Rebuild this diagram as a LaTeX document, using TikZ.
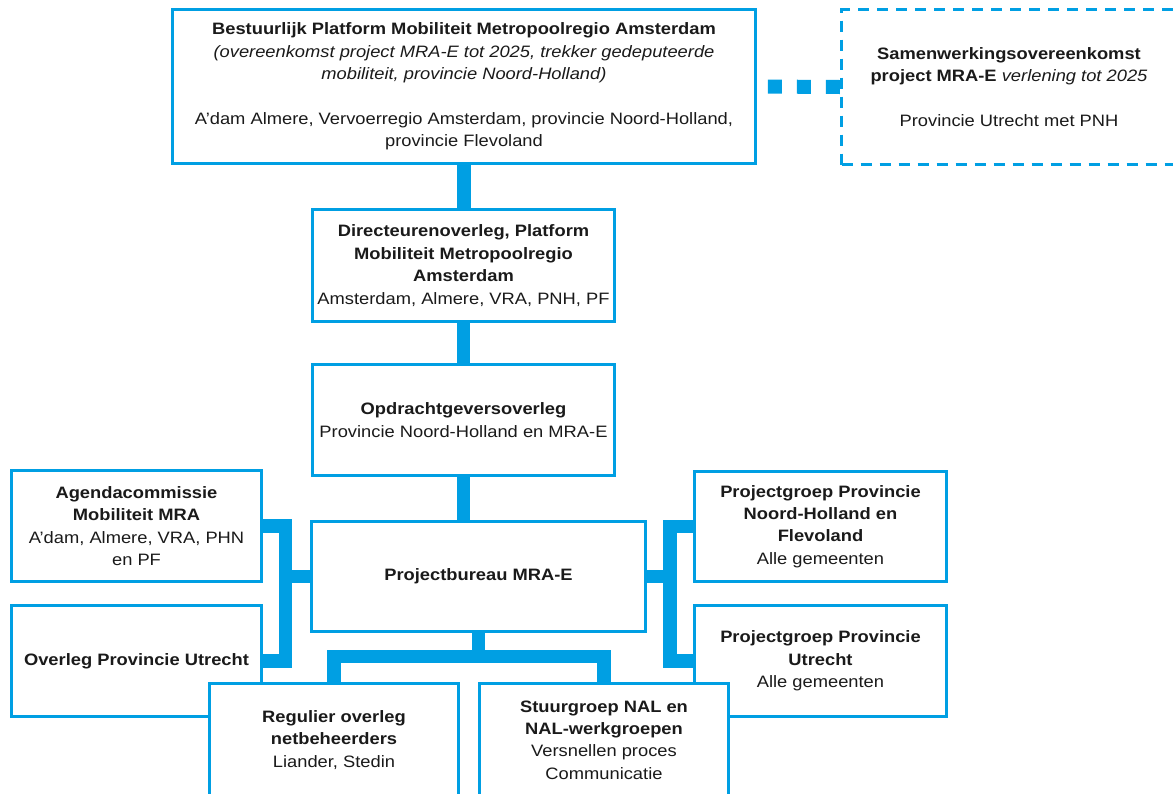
\documentclass[tikz,border=0pt]{standalone}
\usepackage{fontspec}
\setmainfont{Liberation Sans}[FakeStretch=1.11]
\definecolor{mrablue}{HTML}{009FE3}
\definecolor{txt}{HTML}{1A1A1A}
\begin{document}
\begin{tikzpicture}[x=1pt,y=-1pt,
  box/.style={draw=mrablue, line width=3.2pt, fill=white, rectangle, inner sep=0pt,
    align=center, text=txt, font=\fontsize{16.5}{22.4}\selectfont},
  dbox/.style={box, dash pattern=on 11pt off 8pt},
  conn/.style={draw=mrablue, line width=13.5pt},
  dotconn/.style={draw=mrablue, line width=14pt,
    dash pattern=on 14pt off 15pt on 14pt off 15pt on 14pt off 60pt}]
\useasboundingbox (0,0) rectangle (1173,793);

\node[box, minimum width=583pt, minimum height=154pt] (b1) at (464,86.5)
  {\textbf{Bestuurlijk Platform Mobiliteit Metropoolregio Amsterdam}\\
   \textit{(overeenkomst project MRA-E tot 2025, trekker gedeputeerde}\\
   \textit{mobiliteit, provincie Noord-Holland)}\\[22.4pt]
   A’dam Almere, Vervoerregio Amsterdam, provincie Noord-Holland,\\
   provincie Flevoland};

\node[dbox, minimum width=335pt, minimum height=155pt] (ds) at (1009,87)
  {\textbf{Samenwerkingsovereenkomst}\\
   \textbf{project MRA-E} \textit{verlening tot 2025}\\[22.4pt]
   Provincie Utrecht met PNH};

\node[box, minimum width=302pt, minimum height=112pt] (b2) at (463.5,265.5)
  {\textbf{Directeurenoverleg, Platform}\\
   \textbf{Mobiliteit Metropoolregio}\\
   \textbf{Amsterdam}\\
   Amsterdam, Almere, VRA, PNH, PF};

\node[box, minimum width=302pt, minimum height=111pt] (b3) at (463.5,420)
  {\textbf{Opdrachtgeversoverleg}\\
   Provincie Noord-Holland en MRA-E};

\node[box, minimum width=334pt, minimum height=110pt] (b4) at (478.5,576.5)
  {\textbf{Projectbureau MRA-E}};

\node[box, minimum width=250pt, minimum height=111pt] (b7) at (136.5,526)
  {\textbf{Agendacommissie}\\
   \textbf{Mobiliteit MRA}\\
   A’dam, Almere, VRA, PHN\\
   en PF};

\node[box, minimum width=250pt, minimum height=111pt] (b8) at (136.5,661)
  {\textbf{Overleg Provincie Utrecht}};

\node[box, minimum width=252pt, minimum height=110pt] (b9) at (820.5,526.5)
  {\textbf{Projectgroep Provincie}\\
   \textbf{Noord-Holland en}\\
   \textbf{Flevoland}\\
   Alle gemeenten};

\node[box, minimum width=252pt, minimum height=111pt] (b10) at (820.5,661)
  {\textbf{Projectgroep Provincie}\\
   \textbf{Utrecht}\\
   Alle gemeenten};

\node[box, minimum width=249pt, minimum height=113pt] (b5) at (334,740)
  {\textbf{Regulier overleg}\\
   \textbf{netbeheerders}\\
   Liander, Stedin};

\node[box, minimum width=249pt, minimum height=113pt] (b6) at (604,740)
  {\textbf{Stuurgroep NAL en}\\
   \textbf{NAL-werkgroepen}\\
   Versnellen proces\\
   Communicatie};

% connectors
\draw[dotconn] (ds.west) -- (b1.east);
\draw[conn] (b1.south) -- (b1.south |- b2.north);
\draw[conn] (b2.south) -- (b3.north);
\draw[conn] (b3.south) -- (b3.south |- b4.north);

\draw[conn] (b7.east) -- ++(22.5,0) |- (b8.east);
\draw[conn] (b4.west) -- ++(-24.5,0);

\draw[conn] (b9.west) -- ++(-23,0) |- (b10.west);
\draw[conn] (b4.east) -- ++(23,0);

\draw[conn] (b5.north) -- ++(0,-25.5) -| (b6.north);
\draw[conn] (b4.south) -- ++(0,25);
\end{tikzpicture}
\end{document}
